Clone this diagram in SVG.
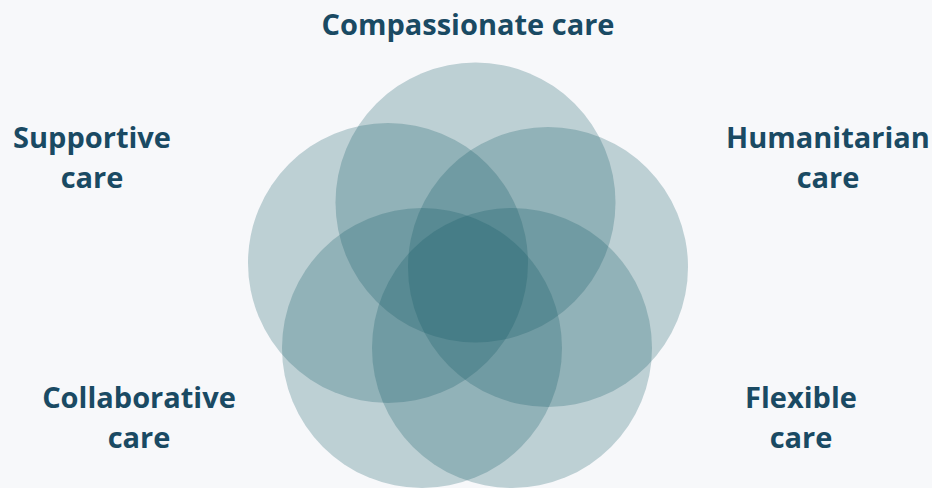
<svg xmlns="http://www.w3.org/2000/svg" width="932" height="488" viewBox="0 0 932 488">
  <style>
    .c { fill: #0e5864; fill-opacity: 0.25; }
    .t { font-family: "Open Sans", "Noto Sans", "Liberation Sans", sans-serif; font-weight: 700; font-size: 29px; fill: #1a4a63; text-anchor: middle; }
  </style>
  <rect width="932" height="488" fill="#f7f8fa"/>
  <g id="circles">
    <circle id="circle-compassionate" class="c" cx="475.5" cy="202.5" r="140"/>
    <circle id="circle-supportive" class="c" cx="388" cy="263" r="140"/>
    <circle id="circle-humanitarian" class="c" cx="548" cy="267" r="140"/>
    <circle id="circle-collaborative" class="c" cx="422" cy="348" r="140"/>
    <circle id="circle-flexible" class="c" cx="512" cy="348" r="140"/>
  </g>
  <g id="label-compassionate"><text class="t" x="468" y="35">Compassionate care</text></g>
  <g id="label-supportive"><text class="t" x="92" y="148">Supportive</text><text class="t" x="92" y="188">care</text></g>
  <g id="label-humanitarian"><text class="t" x="828" y="148">Humanitarian</text><text class="t" x="828" y="188">care</text></g>
  <g id="label-collaborative"><text class="t" x="139" y="408">Collaborative</text><text class="t" x="139" y="448">care</text></g>
  <g id="label-flexible"><text class="t" x="801" y="408">Flexible</text><text class="t" x="801" y="448">care</text></g>
</svg>
